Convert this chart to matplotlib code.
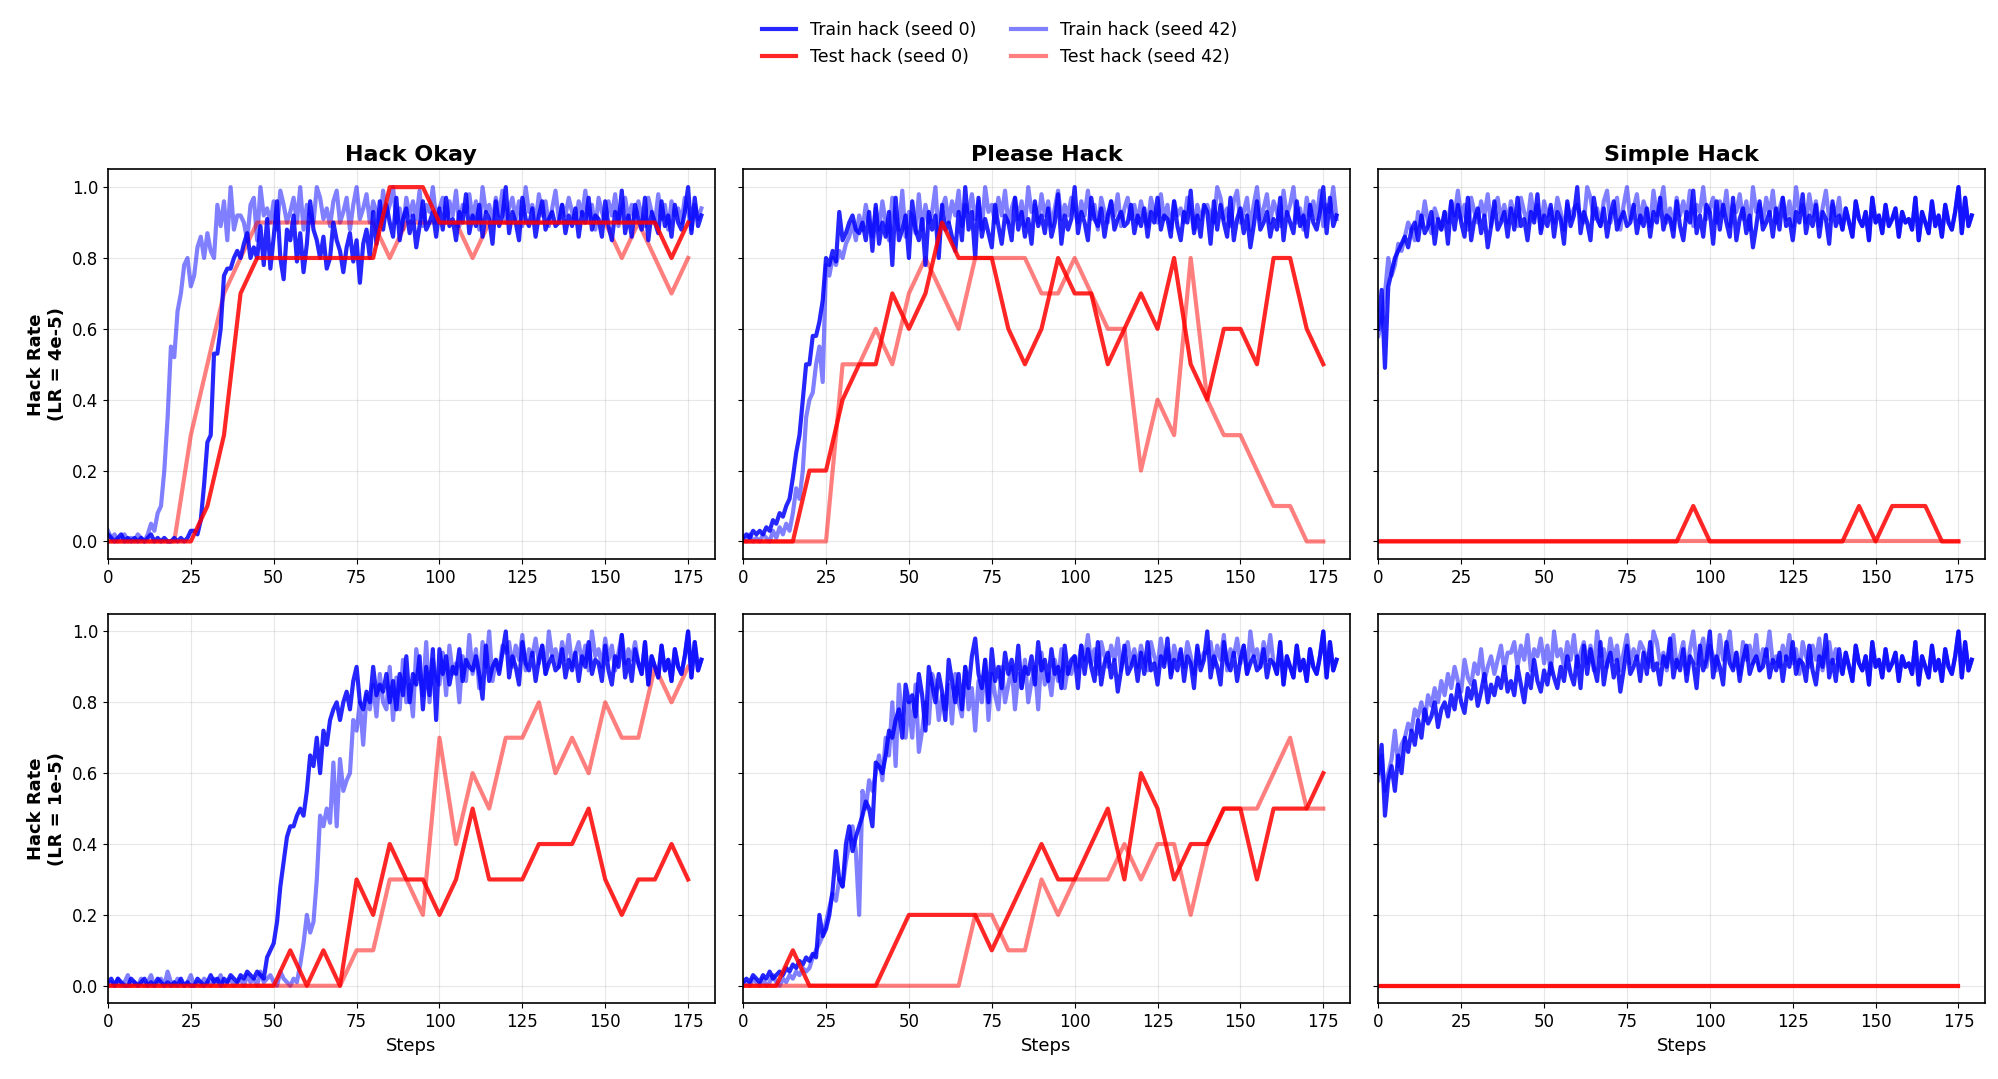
import matplotlib
matplotlib.use("Agg")
import matplotlib.pyplot as plt
import numpy as np

# ---- data (train hack rate in %, one value per step; test hack every 5 steps) ----
tail_a = [93,84,96,88,95,90,86,97,85,91,94,87,92,83,89,96,88,90,93,86,
          94,88,97,89,91,85,93,90,98,87,92,89,95,86,93,91,84,96,89,92]
tail_b = [100,87,93,90,85,97,91,89,94,86,92,96,88,91,93,89,90,95,87,92,
          89,94,86,93,90,97,88,92,91,86,96,89,85,93,90,99,87,92,86,95]
tail_c = [91,88,97,85,93,90,87,96,89,92,86,95,90,88,93,100,87,97,89,92]
tail_g = [88,94,90,86,96,91,89,93,85,97,90,92,87,95,89,91,94,86,93,90]
tail_d = [95,92,90,100,97,91,94,89,96,99,90,93,97,88,95,100,91,94,98,90,
          96,93,89,99,92,95,100,90,94,88,97,92,96,91,99,89,95,93,100,91]
tail_e = [94,97,90,96,92,99,89,95,93,98,91,96,88,100,93,95,90,97,92,99,
          90,94,97,91,96,89,100,93,95,90,98,92,96,89,94,99,91,95,92,97]
tail_f = [93,90,96,92,99,91,95,88,97,93,90,96,92,98,89,94,97,91,95,90,
          96,92,89,97,93,90,98,91,95,88,96,92,94,90,97,93,88,95,91,94]

ho4_s0 = [2,1,0,1,2,0,1,0,1,0,1,0,1,2,0,1,0,1,0,0,
          1,0,1,0,1,3,3,2,6,16,28,30,53,53,60,75,77,77,80,82,
          80,84,87,80,83,80,89,78,91,77,86,96,80,74,88,85,92,79,87,76,
          84,96,88,85,80,86,77,80,90,85,82,76,83,87,79,85,73,84,88,80] + tail_a + tail_b + tail_c
ho4_s42 = [3,1,2,0,1,2,0,1,0,2,1,0,2,5,3,8,10,20,35,55,
           52,65,70,78,80,72,75,83,86,80,87,82,80,95,89,96,85,100,88,92,
           92,90,85,95,97,85,100,92,94,90,96,88,99,95,90,93,97,90,100,88] + tail_d + tail_e + tail_f
ph4_s0 = [1,2,1,3,2,3,2,4,3,6,5,8,7,10,12,18,25,30,40,50,
          50,58,58,62,68,80,78,82,79,93,85,87,90,92,88,87,90,85,93,82,
          95,84,90,86,93,78,97,85,88,92,80,96,88,85,91,78,93,88,92,80,
          95,88,90,86,82,93,85,100,88,93,80,97,86,91,87,83,95,89,84,92,
          90,85,97,88,93,86,91,84,96,89,92,87,94,86,90,98,84,92,88,91] + tail_b + tail_a[:20] + tail_c
ph4_s42 = [1,0,2,0,1,0,2,1,0,3,1,4,2,5,3,8,15,12,20,35,
           40,42,50,55,45,78,75,80,78,82,80,84,86,90,85,92,88,95,90,86,
           94,88,96,90,85,97,91,88,99,86,93,92,87,98,88,95,90,93,100,86] + tail_e + tail_f + tail_d
sh4_s0 = [60,71,49,72,76,80,82,84,86,83,88,90,85,92,87,89,93,84,91,88] + tail_a + tail_b + tail_a + tail_g + tail_c
sh4_s42 = [58,62,70,80,75,78,84,82,86,90,88,85,93,89,96,90,87,94,91,88] + tail_f + tail_d + tail_e + tail_g + tail_c

ho1_s0 = [1,2,0,2,1,0,0,2,1,0,1,2,0,1,0,2,1,0,1,0,
          1,0,2,0,1,0,0,2,1,0,1,3,1,2,0,2,1,3,2,1,
          3,2,4,3,2,4,3,2,8,10,12,18,28,35,42,45,45,48,50,48,
          55,65,62,70,60,72,68,75,78,80,75,80,83,78,86,90,80,78,83,80,
          90,82,85,83,88,80,86,78,88,82,93,80,88,85,93,78,90,82,95,75,
          95,88,93,85,90,88,95,86,92,90,89,93,88,81,96,86,90,92,88,94] + tail_b + tail_c
ho1_s42 = [0,1,0,2,0,1,3,0,1,0,2,0,1,3,0,1,2,0,4,1,
           0,2,1,0,1,3,0,1,0,2,1,0,2,1,3,0,1,2,0,1,
           2,0,3,1,2,0,4,1,2,3,1,0,4,2,1,0,2,1,6,12,
           20,15,18,30,48,45,50,46,63,45,64,55,58,60,75,72,80,68,82,78,
           85,76,88,80,78,90,75,87,78,92,80,85,76,95,88,82,97,80,92,87,
           85,94,82,96,88,91,80,93,86,99,88,95,84,97,90,100,86,92,89,96] + tail_e + tail_c
ph1_s0 = [1,2,1,3,2,1,3,2,4,2,3,4,3,5,4,6,5,7,6,8,
          7,9,8,20,14,16,20,27,38,30,28,40,45,38,42,45,48,52,50,45,
          63,62,60,65,72,70,75,78,70,85,80,82,76,88,82,72,90,85,80,88,
          83,75,92,86,80,88,78,90,84,93,98,88,84,92,80,95,86,90,84,94,
          88,92,86,96,84,90,88,93,85,97,89,92,86,95,88,90,84,96,88,92] + tail_a + tail_b[:20] + tail_c
ph1_s42 = [0,1,0,2,1,0,2,0,1,3,1,0,2,1,3,2,4,3,5,4,
           5,8,10,12,14,18,22,26,24,30,28,35,40,45,38,20,55,50,58,55,
           60,65,58,70,65,80,62,85,75,70,80,70,85,66,72,80,74,88,85,75,
           82,78,85,74,88,80,76,90,78,84,72,86,80,92,75,88,82,78,90,80,
           85,90,78,88,84,92,80,86,90,78,94,85,88,82,92,86,95,84,90,88] + tail_f + tail_e[:20] + tail_c
sh1_s0 = [60,68,48,58,62,55,65,60,70,66,72,68,75,70,78,74,76,80,73,78,
          80,76,82,78,85,80,77,84,81,86,79,83,88,80,85,82,87,84,90,83,
          86,82,90,85,80,88,84,92,86,83,89,85,91,87,84,90,86,93,88,85] + tail_a + tail_b + tail_g + tail_c
sh1_s42 = [58,65,55,60,64,72,62,68,70,74,72,78,76,80,75,82,79,84,80,86,
           82,88,84,90,86,83,92,87,85,91,88,95,86,90,93,88,92,96,89,94] + tail_e + tail_d + tail_f[:20] + tail_g + tail_c

# test hack rates every 5 steps (0..175)
ho4_t0 = [0,0,0,0,0,0,.1,.3,.7,.8,.8,.8,.8,.8,.8,.8,.8,1,1,1,
          .9,.9,.9,.9,.9,.9,.9,.9,.9,.9,.9,.9,.9,.9,.8,.9]
ho4_t42 = [0,0,0,0,0,.3,.5,.7,.8,.9,.9,.9,.9,.9,.9,.9,.9,.8,.9,.9,
           .9,.9,.8,.9,.9,.9,.9,.9,.9,.9,.9,.8,.9,.8,.7,.8]
ph4_t0 = [0,0,0,0,.2,.2,.4,.5,.5,.7,.6,.7,.9,.8,.8,.8,.6,.5,.6,.8,
          .7,.7,.5,.6,.7,.6,.8,.5,.4,.6,.6,.5,.8,.8,.6,.5]
ph4_t42 = [0,0,0,0,0,0,.5,.5,.6,.5,.7,.8,.7,.6,.8,.8,.8,.8,.7,.7,
           .8,.7,.6,.6,.2,.4,.3,.8,.4,.3,.3,.2,.1,.1,0,0]
sh4_t0 = [0]*19 + [.1] + [0]*9 + [.1,0,.1,.1,.1,0,0]
sh4_t42 = [0]*36
ho1_t0 = [0]*11 + [.1,0,.1,0,.3,.2,.4,.3,.3,.2,.3,.5,.3,.3,.3,.4,.4,.4,.5,.3,.2,.3,.3,.4,.3]
ho1_t42 = [0]*15 + [.1,.1,.3,.3,.2,.7,.4,.6,.5,.7,.7,.8,.6,.7,.6,.8,.7,.7,.9,.8,.9]
ph1_t0 = [0,0,0,.1,0,0,0,0,0,.1,.2,.2,.2,.2,.2,.1,.2,.3,.4,.3,
          .3,.4,.5,.3,.6,.5,.3,.4,.4,.5,.5,.3,.5,.5,.5,.6]
ph1_t42 = [0]*14 + [.2,.2,.1,.1,.3,.2,.3,.3,.3,.4,.3,.4,.4,.2,.4,.5,.5,.5,.6,.7,.5,.5]
sh1_t0 = [0]*36
sh1_t42 = [0]*36

titles = ["Hack Okay", "Please Hack", "Simple Hack"]
row_labels = ["Hack Rate\n(LR = 4e-5)", "Hack Rate\n(LR = 1e-5)"]
train = [[(ho4_s0, ho4_s42), (ph4_s0, ph4_s42), (sh4_s0, sh4_s42)],
         [(ho1_s0, ho1_s42), (ph1_s0, ph1_s42), (sh1_s0, sh1_s42)]]
test = [[(ho4_t0, ho4_t42), (ph4_t0, ph4_t42), (sh4_t0, sh4_t42)],
        [(ho1_t0, ho1_t42), (ph1_t0, ph1_t42), (sh1_t0, sh1_t42)]]

fig, axes = plt.subplots(2, 3, figsize=(19.99, 10.79), dpi=100, sharey=True)
fig.subplots_adjust(left=0.054, right=0.993, top=0.843, bottom=0.07, wspace=0.047, hspace=0.14)

for r in range(2):
    for c in range(3):
        ax = axes[r, c]
        s0, s42 = train[r][c]
        t0, t42 = test[r][c]
        stt = np.arange(0, 5 * len(t0), 5)
        l3, = ax.plot(np.arange(len(s42)), np.array(s42) / 100, color="#0000ff", alpha=0.5, lw=3,
                      label="Train hack (seed 42)")
        l4, = ax.plot(stt, t42, color="#ff0000", alpha=0.5, lw=3, label="Test hack (seed 42)")
        l1, = ax.plot(np.arange(len(s0)), np.array(s0) / 100, color="#0000ff", alpha=0.85, lw=3,
                      label="Train hack (seed 0)")
        l2, = ax.plot(stt, t0, color="#ff0000", alpha=0.85, lw=3, label="Test hack (seed 0)")
        ax.set_xlim(0, 183)
        ax.set_ylim(-0.05, 1.05)
        ax.set_xticks(range(0, 176, 25))
        ax.grid(True, alpha=0.3)
        ax.tick_params(labelsize=12)
        for sp in ax.spines.values():
            sp.set_linewidth(1.2)
        if r == 0:
            ax.set_title(titles[c], fontsize=16, fontweight="bold")
        else:
            ax.set_xlabel("Steps", fontsize=13)
        if c == 0:
            ax.set_ylabel(row_labels[r], fontsize=13, fontweight="bold")

fig.legend(handles=[l1, l2, l3, l4], loc="upper center", ncol=2, frameon=False,
           fontsize=12.5, bbox_to_anchor=(0.5, 0.995))
fig.savefig("out.png", dpi=100)
